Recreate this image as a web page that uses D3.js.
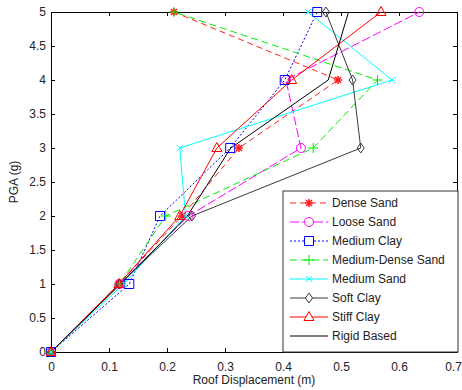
<!DOCTYPE html>
<html>
<head>
<meta charset="utf-8">
<script src="https://cdn.jsdelivr.net/npm/d3@7"></script>
<style>
  body { margin: 0; background: #fff; }
  svg { display: block; font-family: "Liberation Sans", Arial, sans-serif; }
</style>
</head>
<body>
<div id="chart"></div>
<script>
// PGA levels (y values) shared by every series
var pga = [0, 1, 2, 3, 4, 5];

// roof displacement (m) per soil type
var denseSand       = [0, 0.117, 0.226, 0.324, 0.495, 0.212];
var looseSand       = [0, 0.118, 0.237, 0.431, 0.405, 0.635];
var mediumClay      = [0, 0.135, 0.188, 0.309, 0.403, 0.459];
var mediumDenseSand = [0, 0.118, 0.198, 0.452, 0.563, 0.212];
var mediumSand      = [0, 0.125, 0.232, 0.222, 0.588, 0.443];
var softClay        = [0, 0.118, 0.243, 0.534, 0.520, 0.474];
var stiffClay       = [0, 0.117, 0.222, 0.286, 0.415, 0.569];
var rigidBased      = [0, 0.120, 0.235, 0.310, 0.478, 0.513];

var seriesNames = ["Dense Sand", "Loose Sand", "Medium Clay", "Medium-Dense Sand",
                   "Medium Sand", "Soft Clay", "Stiff Clay", "Rigid Based"];
var seriesValues = [denseSand, looseSand, mediumClay, mediumDenseSand,
                    mediumSand, softClay, stiffClay, rigidBased];

var xTicks = [0, 0.1, 0.2, 0.3, 0.4, 0.5, 0.6, 0.7];
var yTicks = [0, 0.5, 1, 1.5, 2, 2.5, 3, 3.5, 4, 4.5, 5];

// line styles, matlab-ish
var styles = [
  { color: "#ff2020", dash: "6,4",  marker: "star" },
  { color: "#ff00ff", dash: "9,3",  marker: "circle" },
  { color: "#0000ff", dash: "2,2",  marker: "square" },
  { color: "#00ee00", dash: "7,4",  marker: "plus" },
  { color: "#00ffff", dash: null,   marker: "cross" },
  { color: "#3a3a3a", dash: null,   marker: "diamond" },
  { color: "#ff0000", dash: null,   marker: "triangle" },
  { color: "#000000", dash: null,   marker: null }
];

var W = 462, H = 390;
var margin = { top: 12, right: 5, bottom: 38, left: 51 };
var plotW = W - margin.left - margin.right,
    plotH = H - margin.top - margin.bottom;

var svg = d3.select("#chart").append("svg")
  .attr("width", W)
  .attr("height", H);

var x = d3.scaleLinear().domain([0, 0.7]).range([margin.left, margin.left + plotW]);
var y = d3.scaleLinear().domain([0, 5]).range([margin.top + plotH, margin.top]);

// clip so lines stay in the box
svg.append("clipPath").attr("id", "plotclip")
  .append("rect")
  .attr("x", margin.left).attr("y", margin.top - 8)
  .attr("width", plotW).attr("height", plotH + 16);

// axes (ticks inward like matlab)
function styleAxis(g) {
  g.select(".domain").attr("stroke", "#000");
  g.selectAll(".tick line").attr("stroke", "#000");
  g.selectAll(".tick text").attr("fill", "#222").style("font-size", "12px");
}

var xAxisG = svg.append("g")
  .attr("transform", "translate(0," + (margin.top + plotH) + ")")
  .call(d3.axisBottom(x).tickValues(xTicks).tickSizeInner(-4).tickSizeOuter(0).tickPadding(10)
    .tickFormat(d3.format("")))
  .call(styleAxis);
// last label sits on the page edge, nudge it in a bit
xAxisG.selectAll(".tick text").filter(function(d) { return d == 0.7; }).attr("dx", -4);

svg.append("g")
  .attr("transform", "translate(0," + margin.top + ")")
  .call(d3.axisTop(x).tickValues(xTicks).tickSizeInner(-4).tickSizeOuter(0).tickFormat(""))
  .call(styleAxis);

svg.append("g")
  .attr("transform", "translate(" + margin.left + ",0)")
  .call(d3.axisLeft(y).tickValues(yTicks).tickSizeInner(-4).tickSizeOuter(0).tickPadding(5)
    .tickFormat(d3.format("")))
  .call(styleAxis);

svg.append("g")
  .attr("transform", "translate(" + (margin.left + plotW) + ",0)")
  .call(d3.axisRight(y).tickValues(yTicks).tickSizeInner(-4).tickSizeOuter(0).tickFormat(""))
  .call(styleAxis);

// axis titles
svg.append("text")
  .attr("x", margin.left + plotW / 2)
  .attr("y", 384)
  .attr("text-anchor", "middle")
  .style("font-size", "12px")
  .attr("fill", "#222")
  .text("Roof Displacement (m)");

svg.append("text")
  .attr("transform", "translate(18," + (margin.top + plotH / 2) + ") rotate(-90)")
  .attr("text-anchor", "middle")
  .style("font-size", "12px")
  .attr("fill", "#222")
  .text("PGA (g)");

// marker paths centred on 0,0
function markerPath(type) {
  switch (type) {
    case "star":
      return "M-4,0H4M0,-4V4M-3,-3L3,3M-3,3L3,-3";
    case "circle":
      return "M4.5,0A4.5,4.5 0 1,1 -4.5,0A4.5,4.5 0 1,1 4.5,0Z";
    case "square":
      return "M-4.5,-4.5H4.5V4.5H-4.5Z";
    case "plus":
      return "M-5,0H5M0,-5V5";
    case "cross":
      return "M-3,-3L3,3M-3,3L3,-3";
    case "diamond":
      return "M0,-5L3.5,0L0,5L-3.5,0Z";
    case "triangle":
      return "M0,-5.5L5,3.5H-5Z";
  }
  return null;
}

var line = d3.line()
  .x(function(d) { return x(d.disp); })
  .y(function(d) { return y(d.pga); });

var plot = svg.append("g").attr("clip-path", "url(#plotclip)");

seriesValues.forEach(function(vals, i) {
  var pts = vals.map(function(v, j) { return { disp: v, pga: pga[j] }; });
  var st = styles[i];
  plot.append("path")
    .datum(pts)
    .attr("d", line)
    .attr("fill", "none")
    .attr("stroke", st.color)
    .attr("stroke-width", 1)
    .attr("stroke-dasharray", st.dash);

  if (st.marker) {
    svg.append("g").selectAll("path")
      .data(pts)
      .enter()
      .append("path")
      .attr("transform", function(d) { return "translate(" + x(d.disp) + "," + y(d.pga) + ")"; })
      .attr("d", markerPath(st.marker))
      .attr("fill", "none")
      .attr("stroke", st.color)
      .attr("stroke-width", st.marker == "star" ? 1.6 : 1);
  }
});

// legend
var legX = 283, legY = 191, legW = 175, legH = 161;
var legend = svg.append("g");
legend.append("rect")
  .attr("x", legX).attr("y", legY)
  .attr("width", legW).attr("height", legH)
  .attr("fill", "#fff")
  .attr("stroke", "#333")
  .attr("stroke-width", 1);

seriesNames.forEach(function(name, i) {
  var st = styles[i];
  var ly = legY + 12 + i * 19;
  legend.append("line")
    .attr("x1", legX + 7).attr("x2", legX + 45)
    .attr("y1", ly).attr("y2", ly)
    .attr("stroke", st.color)
    .attr("stroke-width", 1)
    .attr("stroke-dasharray", st.dash);
  if (st.marker) {
    legend.append("path")
      .attr("transform", "translate(" + (legX + 26) + "," + ly + ")")
      .attr("d", markerPath(st.marker))
      .attr("fill", "#fff")
      .attr("stroke", st.color)
      .attr("stroke-width", st.marker == "star" ? 1.6 : 1);
  }
  legend.append("text")
    .attr("x", legX + 49)
    .attr("y", ly)
    .attr("dy", "0.35em")
    .style("font-size", "12px")
    .attr("fill", "#222")
    .text(name);
});
</script>
</body>
</html>
